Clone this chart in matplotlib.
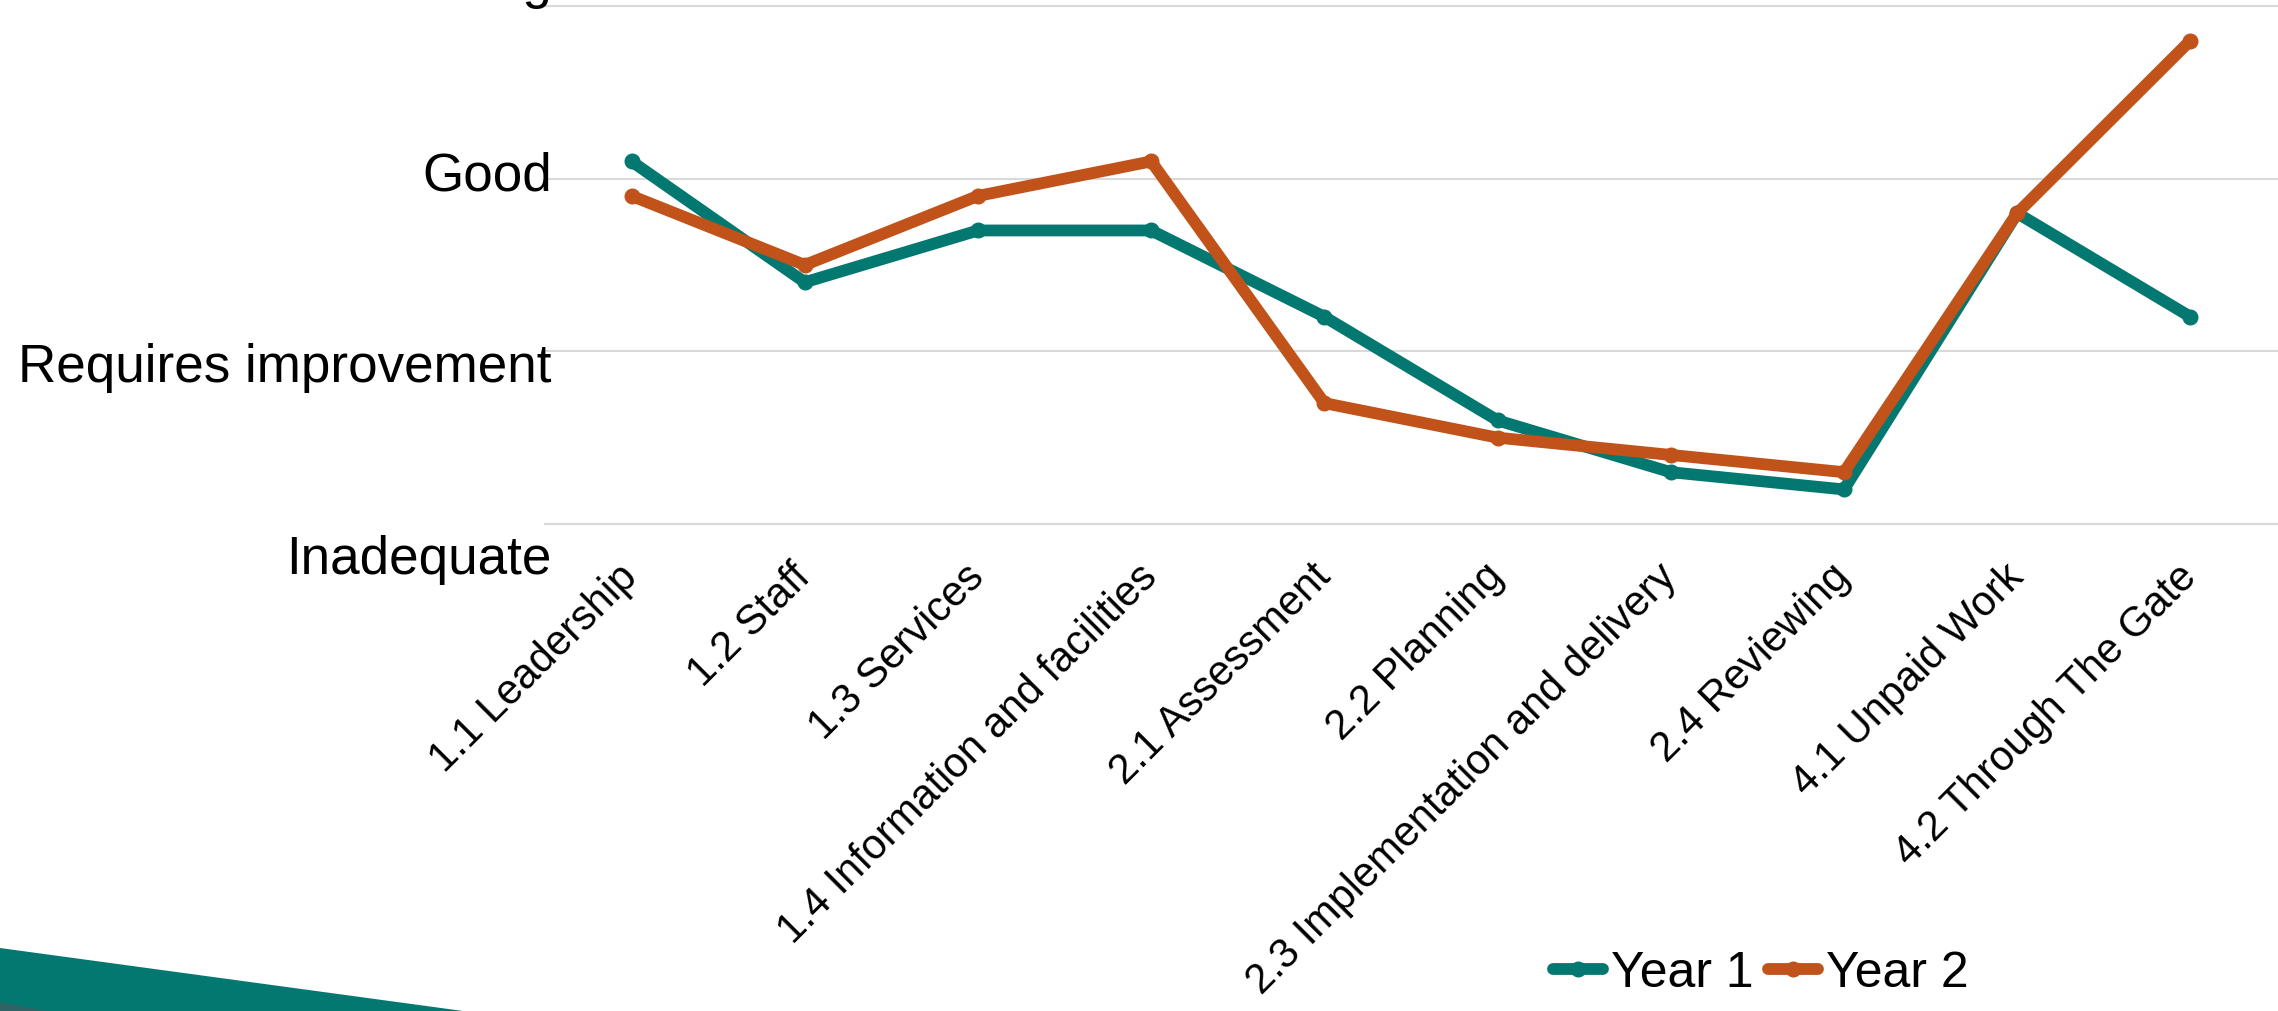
import matplotlib
matplotlib.use("Agg")
import matplotlib.pyplot as plt
from matplotlib.patches import Polygon
from matplotlib.transforms import blended_transform_factory

# Inspection ratings per domain standard, on a 1 (Inadequate) to 4 (Outstanding) scale
categories = [
    "1.1 Leadership",
    "1.2 Staff",
    "1.3 Services",
    "1.4 Information and facilities",
    "2.1 Assessment",
    "2.2 Planning",
    "2.3 Implementation and delivery",
    "2.4 Reviewing",
    "4.1 Unpaid Work",
    "4.2 Through The Gate",
]
year1 = [3.1, 2.4, 2.7, 2.7, 2.2, 1.6, 1.3, 1.2, 2.8, 2.2]
year2 = [2.9, 2.5, 2.9, 3.1, 1.7, 1.5, 1.4, 1.3, 2.8, 3.8]
rating_levels = [1, 2, 3, 4]
rating_labels = ["Inadequate", "Requires improvement", "Good", "Outstanding"]
series_names = ["Year 1", "Year 2"]

TEAL = "#037870"
ORANGE = "#C0521A"
DARK = "#2F6366"
GRID = "#D9D9D9"

plt.rcParams["font.family"] = ["Liberation Sans", "DejaVu Sans"]

W, H = 2278, 1012
fig = plt.figure(figsize=(W / 100, H / 100), dpi=100)
fig.patch.set_facecolor("white")

ax = fig.add_axes([545 / W, 1 - 525 / H, 1732 / W, 518 / H])
ax.set_xlim(-0.5, len(categories) - 0.5)
ax.set_ylim(1, 4)

x = list(range(len(categories)))
line_kw = dict(lw=8.5, marker="o", ms=10.5, solid_capstyle="round",
               solid_joinstyle="round", clip_on=False)
ax.plot(x, year1, color=TEAL, label=series_names[0], zorder=3, **line_kw)
ax.plot(x, year2, color=ORANGE, label=series_names[1], zorder=4, **line_kw)

# horizontal gridlines at each rating level
for lvl in rating_levels:
    ax.axhline(lvl, color=GRID, lw=1.5, zorder=1, clip_on=False)

for s in ax.spines.values():
    s.set_visible(False)
ax.set_yticks([])
ax.tick_params(axis="x", length=0, pad=33)
ax.set_xticks(x)
ax.set_xticklabels(categories, rotation=45, ha="right", va="center",
                   rotation_mode="anchor", fontsize=30)

# rating names beside the gridlines
trans = blended_transform_factory(ax.transAxes, ax.transData)
for lvl, lab in zip(rating_levels, rating_labels):
    ax.text(0.004, 0.718 + (lvl - 1) * 1.111, lab, transform=trans,
            ha="right", va="baseline", fontsize=38.2, clip_on=False)

handles, labels = ax.get_legend_handles_labels()
fig.legend(handles, labels, loc="center", bbox_to_anchor=(0.773, 0.0375),
           ncol=2, frameon=False, fontsize=36, handlelength=1.0,
           handletextpad=0.15, columnspacing=0.3, borderaxespad=0)

# decorative corner bands
def px(points):
    return [(px_x / W, 1 - px_y / H) for px_x, px_y in points]

fig.patches.append(Polygon(px([(0, 949), (463, 1012), (0, 1012)]),
                           closed=True, facecolor=TEAL, edgecolor="none",
                           transform=fig.transFigure, figure=fig))
fig.patches.append(Polygon(px([(0, 1003), (47, 1012), (0, 1012)]),
                           closed=True, facecolor=DARK, edgecolor="none",
                           transform=fig.transFigure, figure=fig))

fig.savefig("out.png", dpi=100)
